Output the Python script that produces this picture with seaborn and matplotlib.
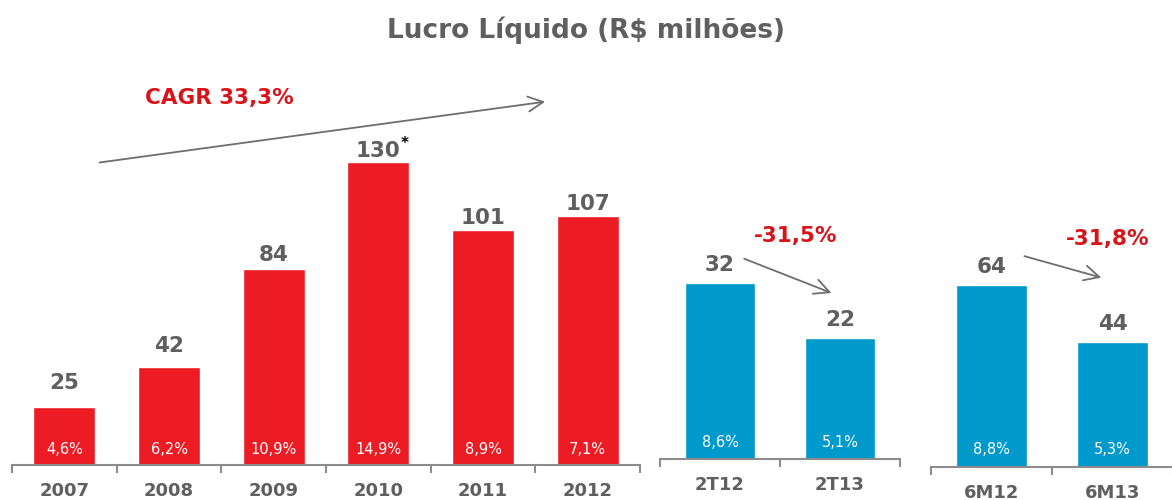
import matplotlib
matplotlib.use("Agg")
import matplotlib.pyplot as plt
import seaborn as sns
import pandas as pd
import numpy as np

# ---- data ----
years = ["2007", "2008", "2009", "2010", "2011", "2012"]
lucro_anual = [25, 42, 84, 130, 101, 107]
margem_anual = ["4,6%", "6,2%", "10,9%", "14,9%", "8,9%", "7,1%"]

trimestres = ["2T12", "2T13"]
lucro_tri = [32, 22]
margem_tri = ["8,6%", "5,1%"]

semestres = ["6M12", "6M13"]
lucro_sem = [64, 44]
margem_sem = ["8,8%", "5,3%"]

value_labels_anual = ["25", "42", "84", "130", "101", "107"]

RED = "#ED1C24"
BLUE = "#0099CC"
GRAY = "#5F5F5F"
AXGRAY = "#8C8C8C"
ANN_RED = "#D7141A"

sns.set_theme(style="white")
plt.rcParams["font.family"] = ["DejaVu Sans"]

fig = plt.figure(figsize=(11.72, 5.0), dpi=100)

def panel(rect, cats, vals, margins, color, ylim, pct_y, labels=None, offs=None):
    ax = fig.add_axes(rect)
    df = pd.DataFrame({"cat": cats, "val": vals})
    sns.barplot(data=df, x="cat", y="val", color=color, width=0.59,
                saturation=1, ax=ax)
    ax.set_ylim(*ylim)
    ax.set_xlim(-0.5, len(cats) - 0.5)
    for s in ["top", "right", "left"]:
        ax.spines[s].set_visible(False)
    ax.spines["bottom"].set_color(AXGRAY)
    ax.spines["bottom"].set_linewidth(1.5)
    ax.set_yticks([])
    ax.set_xlabel("")
    ax.set_ylabel("")
    ax.set_xticks(range(len(cats)))
    ax.set_xticklabels(cats, fontsize=13, fontweight="bold", color=GRAY)
    ax.tick_params(axis="x", which="major", length=0, pad=12)
    ax.set_xticks(np.arange(-0.5, len(cats), 1.0), minor=True)
    ax.tick_params(axis="x", which="minor", length=6, width=1.5,
                   color=AXGRAY, direction="out", bottom=True)
    labs = labels if labels is not None else [str(v) for v in vals]
    offs = offs if offs is not None else [6] * len(vals)
    for i, (v, m) in enumerate(zip(vals, margins)):
        ax.annotate(labs[i], (i, v), xytext=(0, offs[i]), textcoords="offset points",
                    ha="center", va="bottom", fontsize=15.5, fontweight="bold",
                    color=GRAY)
        ax.text(i, pct_y, m, ha="center", va="center", fontsize=10.5,
                color="white")
    return ax

ax1 = panel([12 / 1172, 35 / 500, 628 / 1172, 373 / 500], years,
            lucro_anual, margem_anual, RED, (0, 160), 6.5,
            labels=value_labels_anual, offs=[10, 8, 3, 1, 1, 1])
ax2 = panel([660 / 1172, 41 / 500, 240 / 1172, 330 / 500], trimestres,
            lucro_tri, margem_tri, BLUE, (0, 60), 3.0, offs=[6, 6])
ax3 = panel([931 / 1172, 33 / 500, 242 / 1172, 312 / 500], semestres,
            lucro_sem, margem_sem, BLUE, (0, 110), 6.3, offs=[6, 6])

# asterisk on 2010
ax1.annotate("*", (3, 130), xytext=(19, 19), textcoords="offset points",
             ha="center", va="top", fontsize=11, fontweight="bold",
             color="black")

arrow_kw = dict(arrowstyle="->,head_length=0.9,head_width=0.45",
                color="#6E6E6E", lw=1.3)

# CAGR arrow
ax1.annotate("", xy=(4.62, 156.0), xytext=(0.31, 129.6),
             arrowprops=arrow_kw, annotation_clip=False)
ax1.text(1.48, 157.5, "CAGR 33,3%", ha="center", va="center",
         fontsize=15.5, fontweight="bold", color=ANN_RED, clip_on=False)

# 2T arrow
ax2.annotate("", xy=(0.95, 30.0), xytext=(0.18, 36.6),
             arrowprops=arrow_kw, annotation_clip=False)
ax2.text(0.63, 40.5, "-31,5%", ha="center", va="center",
         fontsize=15.5, fontweight="bold", color=ANN_RED, clip_on=False)

# 6M arrow
ax3.annotate("", xy=(0.93, 66.5), xytext=(0.25, 74.6),
             arrowprops=arrow_kw, annotation_clip=False)
ax3.text(0.96, 80.5, "-31,8%", ha="center", va="center",
         fontsize=15.5, fontweight="bold", color=ANN_RED, clip_on=False)

fig.text(586 / 1172, 1 - 30 / 500, "Lucro Líquido (R$ milhões)",
         ha="center", va="center", fontsize=19, fontweight="bold",
         color=GRAY)

fig.savefig("out.png", dpi=100)
